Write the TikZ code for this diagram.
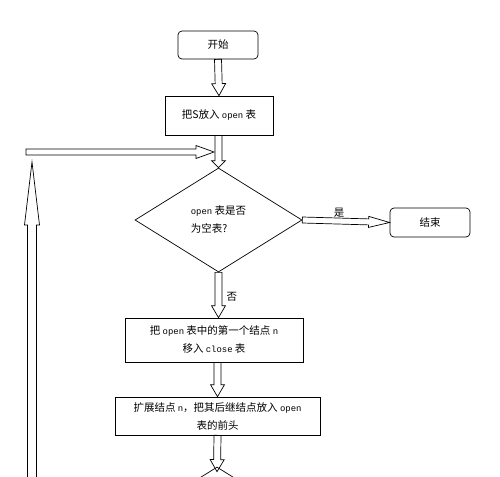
\documentclass[tikz,border=0pt]{standalone}
\usepackage{fontspec}
\setmainfont{Noto Sans CJK SC}
\setmonofont{Liberation Mono}[Scale=0.85]
\usetikzlibrary{arrows.meta,positioning,shapes.geometric,calc}

% hollow block arrow: [style]{shaft half width}{head half width}{head length}{from}{to}
\newcommand{\hollowarrow}[6][]{%
  \coordinate (ha-s) at (#5);
  \coordinate (ha-t) at (#6);
  \coordinate (ha-h) at ($(ha-t)!#4!(ha-s)$);
  \draw[hollowline,#1] ($(ha-s)!#2!90:(ha-t)$) -- ($(ha-h)!#2!90:(ha-t)$)
    -- ($(ha-h)!#3!90:(ha-t)$) -- (ha-t) -- ($(ha-h)!#3!-90:(ha-t)$)
    -- ($(ha-h)!#2!-90:(ha-t)$) -- ($(ha-s)!#2!-90:(ha-t)$) -- cycle;
}

\begin{document}
\begin{tikzpicture}[x=1pt,y=-1pt,
    font=\fontsize{10.5}{18}\selectfont,
    every node/.style={inner sep=0pt},
    stepbox/.style={draw,line width=0.7pt,align=center},
    roundbox/.style={stepbox,rounded corners=4pt},
    decision/.style={draw,line width=0.7pt,diamond,align=left},
    hollowline/.style={draw,line width=0.7pt,line join=miter}]
    \useasboundingbox (0,0) rectangle (500,476);
    \clip (0,0) rectangle (500,476);
    % boxes
    \node[roundbox,minimum width=80pt,minimum height=28pt] (start) at (218,45) {开始};
    \node[stepbox,minimum width=108pt,minimum height=39pt] (puts) at (219,115.5) {把S放入 \texttt{open} 表};
    \node[decision,minimum width=167pt,minimum height=104pt] (empty) at (218.5,220) {\texttt{open} 表是否\\为空表?};
    \node[roundbox,minimum width=80pt,minimum height=29pt] (stop) at (430,222.5) {结束};
    \node[stepbox,minimum width=178pt,minimum height=44pt] (move) at (214,340) {把 \texttt{open} 表中的第一个结点 \texttt{n}\\移入 \texttt{close} 表};
    \node[stepbox,minimum width=205pt,minimum height=38pt] (expand) at (217.5,416) {扩展结点 \texttt{n}，把其后继结点放入 \texttt{open}\\表的前头};
    \node[decision,minimum width=167pt,minimum height=104pt] (next) at (217,519) {};
    % loop back
    \coordinate (loopstart) at (26,152);
    \coordinate (loopend) at (214,152);
    \coordinate (upstart) at (32,540);
    \coordinate (upend) at (32,162);
    % connectors
    \hollowarrow{3.5pt}{7pt}{12pt}{start.south}{puts.north}
    \hollowarrow{3.5pt}{7pt}{7pt}{puts.south -| empty.north}{empty.north}
    \hollowarrow{3pt}{6.5pt}{18pt}{loopstart}{loopend}
    \hollowarrow{4.5pt}{7.5pt}{63pt}{upstart}{upend}
    \hollowarrow{3pt}{5.5pt}{21pt}{empty.east}{stop.west}
    \hollowarrow{3.5pt}{7pt}{12pt}{empty.south}{empty.south |- move.north}
    \hollowarrow{3.5pt}{7pt}{12pt}{move.south -| expand.north}{expand.north}
    \hollowarrow{3.5pt}{7pt}{12pt}{expand.south}{$(next.north)+(0,5)$}
    % labels
    \node[above=4pt] (yes) at ($(empty.east)!0.42!(stop.west)$) {是};
    \node[right=8pt] (no) at ($(empty.south)!0.55!(empty.south |- move.north)$) {否};
\end{tikzpicture}
\end{document}
